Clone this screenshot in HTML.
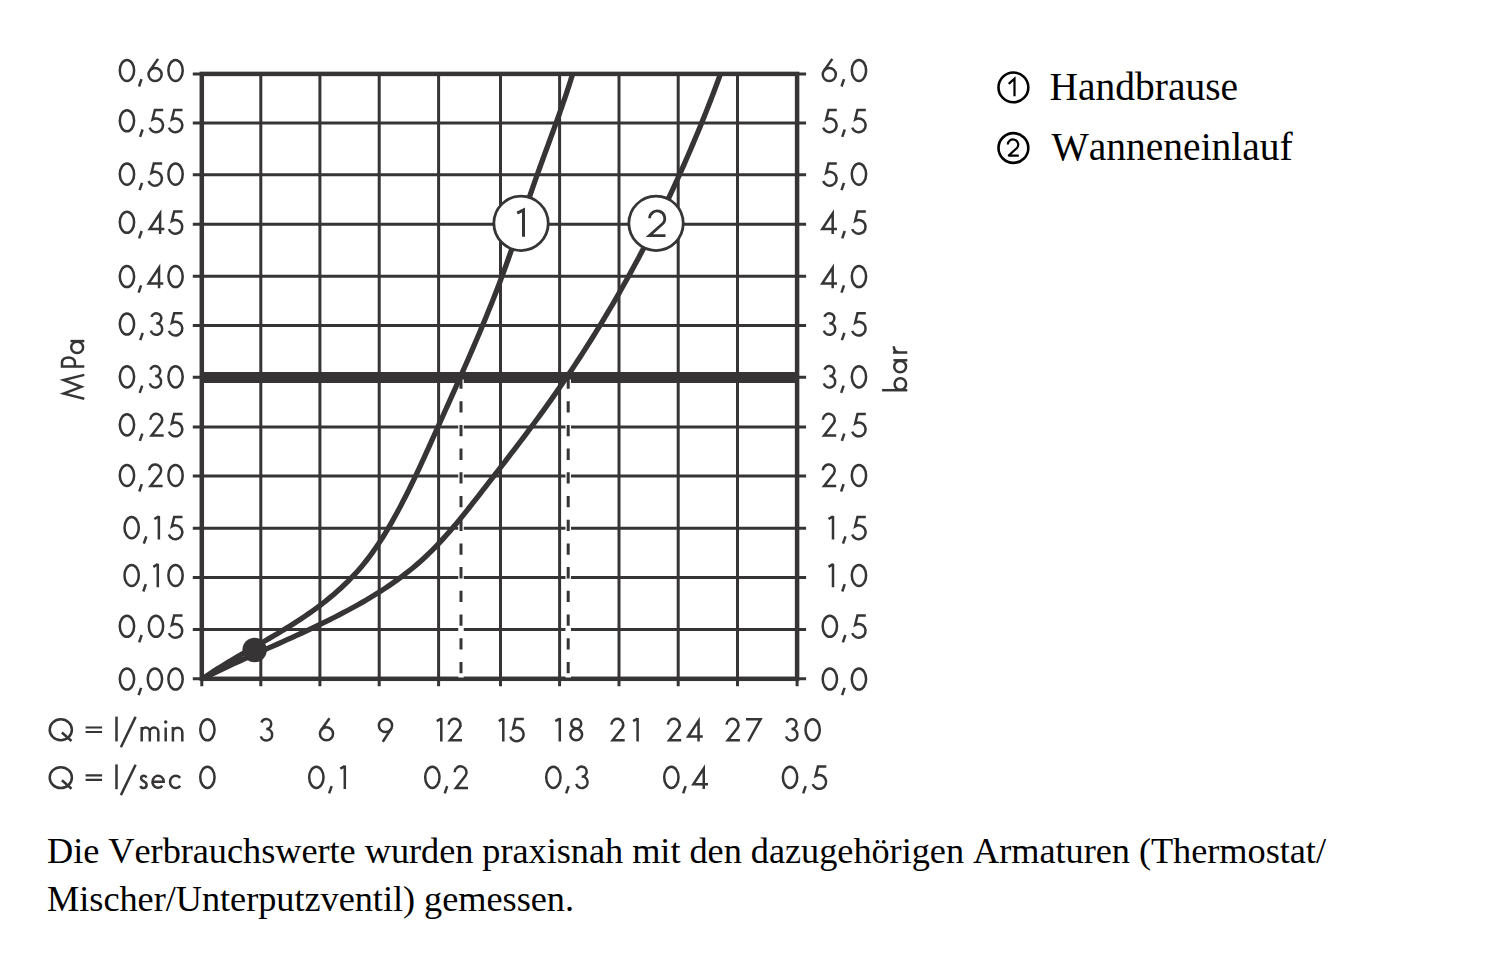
<!DOCTYPE html>
<html><head><meta charset="utf-8"><style>
html,body{margin:0;padding:0;background:#fff;width:1500px;height:956px;overflow:hidden}
svg{display:block} text{font-kerning:none}
</style></head><body>
<svg width="1500" height="956" viewBox="0 0 1500 956"><defs><g id="g0"><ellipse cx="8.35" cy="-11.75" rx="7.15" ry="10.55"/></g><g id="g1"><path d="M0.8 -20.4L5.3 -23.0M5.3 -23.5V0"/></g><g id="g2"><path d="M1.35 -16.9A5.95 5.95 0 1 1 12.28 -13.5L2.6 -1.2H14.7" stroke-linejoin="miter"/></g><g id="g3"><path d="M1.7 -19.0A5.0 5.0 0 1 1 6.5 -12.5A5.75 5.75 0 1 1 1.1 -5.2"/></g><g id="g4"><path d="M16.75 -4.9H2.1L12.5 -20.6V0" stroke-linejoin="miter" stroke-miterlimit="5"/></g><g id="g5"><path d="M15.3 -22.5H7.0L4.7 -13.1A6.9 6.9 0 1 1 1.7 -4.9"/></g><g id="g6"><circle cx="7.8" cy="-7.7" r="6.55"/><path d="M10.8 -23.3L2.5 -11.54"/></g><g id="g7"><circle cx="8.1" cy="-16.0" r="6.6"/><path d="M5.4 0.3L13.6 -12.35"/></g><g id="g8"><path d="M0 -22.3H14.6L2.3 0" stroke-linejoin="miter"/></g><g id="g9"><ellipse cx="7.05" cy="-17.8" rx="4.95" ry="4.65"/><ellipse cx="7.05" cy="-6.95" rx="5.85" ry="5.75"/></g><g id="g10"><path d="M3.5 -3.0L1.0 4.3"/></g><g id="g11"><ellipse cx="12.3" cy="-11.6" rx="11.1" ry="10.45"/><path d="M13.4 -8.9L23.0 -0.4"/></g><g id="g12"><path d="M0 -13.9H16.5M0 -9.4H16.5" stroke-width="2.2"/></g><g id="g13"><path d="M1.3 -24.8V0"/></g><g id="g14"><path d="M15.9 -24.5L1.2 5.9"/></g><g id="g15"><path d="M1.2 0V-14.3M1.2 -9.6A4.0 4.2 0 0 1 9.3 -9.6V0M9.3 -9.6A4.25 4.2 0 0 1 17.8 -9.6V0"/></g><g id="g16"><path d="M1.2 -13.9V0"/><circle cx="1.2" cy="-19.5" r="1.75" fill="currentColor" stroke="none"/></g><g id="g17"><path d="M1.2 0V-14.3M1.2 -9.0A4.7 4.6 0 0 1 10.6 -9.0V0"/></g><g id="g18"><path d="M6.9 -11.6C6.4 -13.0 5.4 -13.5 4.2 -13.5C2.6 -13.5 1.5 -12.4 1.5 -10.9C1.5 -7.3 7.0 -8.3 7.0 -4.4C7.0 -2.4 5.6 -1.2 4.0 -1.2C2.6 -1.2 1.4 -1.9 0.8 -3.3"/></g><g id="g19"><path d="M1.2 -7.4H12.4A5.6 6.1 0 1 0 11.0 -3.4"/></g><g id="g20"><path d="M11.3 -11.3A5.8 6.1 0 1 0 11.3 -3.3"/></g><g id="g21"><path d="M0.6 0L5.8 -20.6L12.55 -3.0L19.3 -20.6L24.5 0" stroke-linejoin="miter" stroke-miterlimit="6"/></g><g id="g22"><path d="M1.2 0V-22.3H5.3A4.9 6.45 0 0 1 5.3 -9.4H1.2"/></g><g id="g23"><ellipse cx="6.8" cy="-7.15" rx="5.6" ry="5.95"/><path d="M13.1 -13.8V0"/></g><g id="g24"><path d="M1.2 -25.2V0"/><ellipse cx="7.4" cy="-6.95" rx="5.8" ry="5.75"/></g><g id="g25"><path d="M1.2 0V-14.3M1.2 -8.6C1.4 -11.9 3.4 -13.5 7.3 -13.5"/></g></defs><defs><clipPath id="pc"><rect x="201.8" y="73.9" width="595.3" height="607.9"/></clipPath></defs><rect width="1500" height="956" fill="#fff"/><path d="M260.80 73.90V686.30M319.90 73.90V686.30M379.20 73.90V686.30M438.60 73.90V686.30M500.50 73.90V686.30M559.60 73.90V686.30M619.00 73.90V686.30M678.20 73.90V686.30M737.50 73.90V686.30M192.80 629.40H806.10M192.80 577.50H806.10M192.80 528.30H806.10M192.80 476.10H806.10M192.80 427.10H806.10M192.80 325.50H806.10M192.80 276.20H806.10M192.80 224.30H806.10M192.80 174.70H806.10M192.80 123.10H806.10M192.80 678.80H201.8M797.1 678.80H806.10M192.80 73.90H201.8M797.1 73.90H806.10M192.80 377.30H201.8M797.1 377.30H806.10M201.80 678.8V686.30M797.10 678.8V686.30" stroke="#363435" stroke-width="3" fill="none"/><rect x="201.80" y="73.90" width="595.30" height="604.90" stroke="#363435" stroke-width="4.5" fill="none"/><path d="M201.80 377.40H797.10" stroke="#363435" stroke-width="11"/><path d="M461.0 379.5V677.5" stroke="#fff" stroke-width="5.5"/><path d="M461.0 377.5V679" stroke="#363435" stroke-width="3" stroke-dasharray="11.3 12.4"/><path d="M568.2 379.5V677.5" stroke="#fff" stroke-width="5.5"/><path d="M568.2 377.5V679" stroke="#363435" stroke-width="3" stroke-dasharray="11.3 12.4"/><path d="M202.00 679.00L205.82 676.40L209.67 673.85L213.55 671.34L217.45 668.86L221.37 666.42L225.31 664.00L229.27 661.62L233.24 659.25L237.22 656.90L241.22 654.57L245.23 652.25L249.24 649.94L253.25 647.63L257.26 645.32L261.28 643.01L265.29 640.69L269.29 638.36L273.29 636.02L277.28 633.66L281.25 631.27L285.21 628.87L289.16 626.43L293.08 623.97L296.98 621.47L300.86 618.93L304.71 616.36L308.53 613.73L312.33 611.06L316.09 608.35L319.81 605.57L323.50 602.74L327.14 599.85L330.74 596.91L334.30 593.90L337.80 590.84L341.24 587.71L344.63 584.53L347.96 581.28L351.23 577.97L354.42 574.60L357.55 571.17L360.60 567.67L363.57 564.11L366.46 560.49L369.29 556.82L372.04 553.09L374.73 549.31L377.35 545.48L379.92 541.62L382.42 537.72L384.87 533.79L387.27 529.82L389.62 525.84L391.93 521.83L394.19 517.80L396.42 513.76L398.61 509.71L400.76 505.66L402.88 501.59L404.98 497.52L407.04 493.44L409.08 489.35L411.09 485.25L413.08 481.15L415.05 477.03L417.01 472.91L418.94 468.79L420.87 464.65L422.77 460.51L424.67 456.36L426.56 452.20L428.45 448.04L430.33 443.87L432.20 439.69L434.08 435.51L435.96 431.32L437.84 427.13L439.72 422.92L441.61 418.72L443.51 414.50L445.40 410.28L447.30 406.06L449.20 401.82L451.11 397.59L453.01 393.35L454.91 389.10L456.81 384.85L458.70 380.59L460.60 376.32L462.49 372.06L464.38 367.78L466.26 363.51L468.13 359.22L470.00 354.94L471.86 350.65L473.72 346.35L475.56 342.05L477.40 337.75L479.22 333.44L481.04 329.13L482.84 324.82L484.63 320.50L486.41 316.18L488.17 311.85L489.92 307.53L491.66 303.20L493.37 298.86L495.07 294.52L496.76 290.18L498.42 285.84L500.07 281.50L501.69 277.15L503.30 272.80L504.89 268.45L506.45 264.09L508.01 259.74L509.54 255.38L511.07 251.02L512.58 246.66L514.08 242.29L515.58 237.93L517.07 233.56L518.55 229.19L520.03 224.83L521.51 220.46L522.99 216.09L524.47 211.71L525.95 207.34L527.43 202.97L528.93 198.60L530.42 194.22L531.93 189.85L533.45 185.48L534.98 181.10L536.52 176.73L538.07 172.35L539.64 167.98L541.22 163.61L542.81 159.23L544.41 154.86L546.01 150.49L547.62 146.12L549.22 141.75L550.82 137.38L552.42 133.02L554.02 128.65L555.60 124.29L557.18 119.92L558.74 115.56L560.29 111.20L561.82 106.84L563.33 102.49L564.82 98.13L566.29 93.78L567.73 89.43L569.15 85.08L570.53 80.74L571.89 76.40L573.21 72.06M202.00 679.00L206.68 676.67L211.38 674.36L216.08 672.08L220.80 669.83L225.52 667.60L230.25 665.39L234.99 663.20L239.73 661.02L244.47 658.86L249.22 656.72L253.97 654.58L258.72 652.45L263.47 650.32L268.21 648.20L272.96 646.08L277.70 643.96L282.43 641.83L287.16 639.70L291.88 637.57L296.59 635.42L301.30 633.25L306.00 631.08L310.68 628.88L315.37 626.66L320.04 624.42L324.71 622.14L329.37 619.84L334.02 617.50L338.66 615.13L343.30 612.71L347.93 610.25L352.55 607.75L357.15 605.21L361.73 602.61L366.28 599.97L370.81 597.28L375.30 594.53L379.76 591.73L384.18 588.88L388.55 585.97L392.87 583.00L397.14 579.97L401.36 576.88L405.51 573.73L409.61 570.51L413.63 567.23L417.58 563.88L421.45 560.46L425.25 556.97L428.97 553.42L432.63 549.80L436.23 546.13L439.76 542.41L443.25 538.63L446.68 534.80L450.07 530.94L453.42 527.03L456.73 523.08L460.01 519.11L463.27 515.10L466.50 511.07L469.72 507.02L472.92 502.94L476.11 498.86L479.30 494.76L482.49 490.65L485.69 486.54L488.89 482.43L492.09 478.31L495.29 474.19L498.49 470.06L501.69 465.92L504.89 461.78L508.08 457.64L511.27 453.48L514.45 449.33L517.62 445.16L520.79 440.99L523.94 436.82L527.09 432.63L530.22 428.44L533.34 424.24L536.44 420.04L539.53 415.82L542.59 411.60L545.65 407.38L548.68 403.14L551.69 398.89L554.68 394.64L557.65 390.38L560.61 386.11L563.54 381.83L566.46 377.54L569.36 373.24L572.24 368.93L575.10 364.62L577.95 360.29L580.77 355.95L583.58 351.60L586.37 347.25L589.15 342.88L591.90 338.50L594.64 334.11L597.36 329.70L600.07 325.29L602.75 320.86L605.43 316.43L608.08 311.98L610.72 307.52L613.34 303.04L615.95 298.56L618.54 294.06L621.11 289.55L623.67 285.03L626.21 280.49L628.74 275.94L631.25 271.39L633.74 266.82L636.21 262.24L638.67 257.64L641.12 253.04L643.54 248.43L645.95 243.81L648.35 239.17L650.72 234.53L653.08 229.87L655.43 225.21L657.75 220.54L660.06 215.86L662.35 211.17L664.63 206.47L666.89 201.76L669.13 197.04L671.35 192.31L673.56 187.58L675.75 182.84L677.92 178.09L680.07 173.33L682.21 168.57L684.33 163.80L686.43 159.02L688.52 154.23L690.58 149.44L692.63 144.64L694.66 139.84L696.67 135.02L698.67 130.21L700.65 125.39L702.61 120.56L704.55 115.72L706.47 110.89L708.38 106.04L710.26 101.19L712.13 96.34L713.98 91.48L715.81 86.62L717.63 81.76L719.42 76.89L721.20 72.01" stroke="#363435" stroke-width="5.3" fill="none" stroke-linejoin="round" clip-path="url(#pc)"/><circle cx="254.6" cy="650" r="12.2" fill="#363435"/><circle cx="521.05" cy="223.35" r="27.2" fill="#fff" stroke="#363435" stroke-width="2.8"/><circle cx="656.05" cy="223.35" r="27.2" fill="#fff" stroke="#363435" stroke-width="2.8"/><path d="M517.2 213.2L523.5 209.9V236.8" stroke="#363435" stroke-width="3" fill="none"/><path d="M649.6 218.3A7.6 7.6 0 1 1 663.1 223.3L649.3 235.6H665.5" stroke="#363435" stroke-width="2.8" fill="none"/><g fill="none" stroke="#363435" stroke-width="2.5" color="#363435"><use href="#g0" x="118.60" y="82.2"/><use href="#g10" x="138.00" y="82.2"/><use href="#g6" x="147.30" y="82.2"/><use href="#g0" x="167.20" y="82.2"/><use href="#g0" x="118.60" y="132.5"/><use href="#g10" x="139.10" y="132.5"/><use href="#g5" x="147.90" y="132.5"/><use href="#g5" x="167.20" y="132.5"/><use href="#g0" x="118.60" y="185.9"/><use href="#g10" x="138.57" y="185.9"/><use href="#g5" x="146.83" y="185.9"/><use href="#g0" x="167.20" y="185.9"/><use href="#g0" x="118.60" y="234.0"/><use href="#g10" x="138.15" y="234.0"/><use href="#g4" x="147.60" y="234.0"/><use href="#g5" x="167.20" y="234.0"/><use href="#g0" x="118.60" y="288.3"/><use href="#g10" x="137.62" y="288.3"/><use href="#g4" x="146.53" y="288.3"/><use href="#g0" x="167.20" y="288.3"/><use href="#g0" x="118.60" y="335.8"/><use href="#g10" x="139.23" y="335.8"/><use href="#g3" x="149.77" y="335.8"/><use href="#g5" x="167.20" y="335.8"/><use href="#g0" x="118.60" y="388.6"/><use href="#g10" x="138.70" y="388.6"/><use href="#g3" x="148.70" y="388.6"/><use href="#g0" x="167.20" y="388.6"/><use href="#g0" x="118.60" y="436.6"/><use href="#g10" x="138.83" y="436.6"/><use href="#g2" x="148.97" y="436.6"/><use href="#g5" x="167.20" y="436.6"/><use href="#g0" x="118.60" y="487.2"/><use href="#g10" x="138.30" y="487.2"/><use href="#g2" x="147.90" y="487.2"/><use href="#g0" x="167.20" y="487.2"/><use href="#g0" x="123.30" y="539.4"/><use href="#g10" x="142.83" y="539.4"/><use href="#g1" x="153.57" y="539.4"/><use href="#g5" x="167.20" y="539.4"/><use href="#g0" x="123.30" y="587.2"/><use href="#g10" x="142.30" y="587.2"/><use href="#g1" x="152.50" y="587.2"/><use href="#g0" x="167.20" y="587.2"/><use href="#g0" x="118.60" y="638.0"/><use href="#g10" x="138.17" y="638.0"/><use href="#g0" x="147.63" y="638.0"/><use href="#g5" x="167.20" y="638.0"/><use href="#g0" x="118.60" y="690.8"/><use href="#g10" x="137.63" y="690.8"/><use href="#g0" x="146.57" y="690.8"/><use href="#g0" x="167.20" y="690.8"/><use href="#g6" x="821.50" y="82.2"/><use href="#g10" x="840.55" y="82.2"/><use href="#g0" x="850.60" y="82.2"/><use href="#g5" x="821.50" y="132.5"/><use href="#g10" x="841.25" y="132.5"/><use href="#g5" x="850.50" y="132.5"/><use href="#g5" x="821.50" y="185.9"/><use href="#g10" x="840.50" y="185.9"/><use href="#g0" x="850.60" y="185.9"/><use href="#g4" x="820.20" y="234.0"/><use href="#g10" x="841.23" y="234.0"/><use href="#g5" x="850.50" y="234.0"/><use href="#g4" x="820.20" y="288.3"/><use href="#g10" x="840.48" y="288.3"/><use href="#g0" x="850.60" y="288.3"/><use href="#g3" x="822.80" y="335.8"/><use href="#g10" x="840.90" y="335.8"/><use href="#g5" x="850.50" y="335.8"/><use href="#g3" x="822.80" y="388.6"/><use href="#g10" x="840.15" y="388.6"/><use href="#g0" x="850.60" y="388.6"/><use href="#g2" x="821.50" y="436.6"/><use href="#g10" x="840.85" y="436.6"/><use href="#g5" x="850.50" y="436.6"/><use href="#g2" x="821.50" y="487.2"/><use href="#g10" x="840.10" y="487.2"/><use href="#g0" x="850.60" y="487.2"/><use href="#g1" x="827.70" y="539.4"/><use href="#g10" x="842.00" y="539.4"/><use href="#g5" x="850.50" y="539.4"/><use href="#g1" x="827.70" y="587.2"/><use href="#g10" x="841.25" y="587.2"/><use href="#g0" x="850.60" y="587.2"/><use href="#g0" x="821.50" y="638.0"/><use href="#g10" x="841.85" y="638.0"/><use href="#g5" x="850.50" y="638.0"/><use href="#g0" x="821.50" y="690.8"/><use href="#g10" x="841.10" y="690.8"/><use href="#g0" x="850.60" y="690.8"/><use href="#g0" x="199.05" y="741.5"/><use href="#g3" x="259.75" y="741.5"/><use href="#g6" x="318.70" y="741.5"/><use href="#g7" x="377.40" y="741.5"/><use href="#g1" x="436.00" y="741.5"/><use href="#g2" x="447.30" y="741.5"/><use href="#g1" x="498.00" y="741.5"/><use href="#g5" x="508.50" y="741.5"/><use href="#g1" x="554.50" y="741.5"/><use href="#g9" x="569.20" y="741.5"/><use href="#g2" x="610.00" y="741.5"/><use href="#g1" x="632.30" y="741.5"/><use href="#g2" x="666.50" y="741.5"/><use href="#g4" x="686.05" y="741.5"/><use href="#g2" x="725.20" y="741.5"/><use href="#g8" x="746.00" y="741.5"/><use href="#g3" x="785.00" y="741.5"/><use href="#g0" x="804.30" y="741.5"/><use href="#g0" x="199.05" y="789.1"/><use href="#g0" x="308.00" y="789.1"/><use href="#g10" x="328.15" y="789.1"/><use href="#g1" x="339.50" y="789.1"/><use href="#g0" x="424.00" y="789.1"/><use href="#g10" x="443.70" y="789.1"/><use href="#g2" x="453.30" y="789.1"/><use href="#g0" x="545.00" y="789.1"/><use href="#g10" x="565.15" y="789.1"/><use href="#g3" x="575.20" y="789.1"/><use href="#g0" x="663.00" y="789.1"/><use href="#g10" x="682.17" y="789.1"/><use href="#g4" x="691.25" y="789.1"/><use href="#g0" x="781.70" y="789.1"/><use href="#g10" x="802.20" y="789.1"/><use href="#g5" x="811.00" y="789.1"/><use href="#g11" x="48.5" y="741.4"/><use href="#g12" x="85.6" y="741.4"/><use href="#g13" x="115.2" y="741.4"/><use href="#g14" x="119.7" y="741.4"/><use href="#g15" x="140.5" y="741.4"/><use href="#g16" x="164.5" y="741.4"/><use href="#g17" x="171.7" y="741.4"/><use href="#g11" x="48.5" y="789.2"/><use href="#g12" x="85.6" y="789.2"/><use href="#g13" x="115.2" y="789.2"/><use href="#g14" x="119.7" y="789.2"/><use href="#g18" x="139.6" y="789.2"/><use href="#g19" x="151.3" y="789.2"/><use href="#g20" x="168.9" y="789.2"/><g transform="translate(84.3 399.4) rotate(-90)"><use href="#g21" x="0" y="0"/><use href="#g22" x="31.8" y="0"/><use href="#g23" x="45.2" y="0"/></g><g transform="translate(907.3 392) rotate(-90)"><use href="#g24" x="0.6" y="0"/><use href="#g23" x="18.6" y="0"/><use href="#g25" x="38.4" y="0"/></g></g><circle cx="1013.4" cy="87.4" r="14.9" fill="none" stroke="#000" stroke-width="2.6"/><circle cx="1013.4" cy="148.0" r="14.9" fill="none" stroke="#000" stroke-width="2.6"/><path d="M1008.7 83.9L1014.5 78.7V96.3" stroke="#000" stroke-width="2.2" fill="none"/><path d="M1007.8 144.6A5.2 5.2 0 1 1 1017.2 147.7L1008.4 155.7H1018.8" stroke="#000" stroke-width="2.2" fill="none" stroke-miterlimit="2"/><text x="1049.5" y="99.8" font-family="Liberation Serif" font-size="39.5" fill="#000">Handbrause</text><text x="1051.5" y="159.5" font-family="Liberation Serif" font-size="39.5" fill="#000">Wanneneinlauf</text><text x="47" y="862.8" font-family="Liberation Serif" font-size="36.3" fill="#000" textLength="1279" lengthAdjust="spacing">Die Verbrauchswerte wurden praxisnah mit den dazugehörigen Armaturen (Thermostat/</text><text x="47" y="910.8" font-family="Liberation Serif" font-size="36.3" fill="#000" textLength="527" lengthAdjust="spacing">Mischer/Unterputzventil) gemessen.</text></svg>
</body></html>
